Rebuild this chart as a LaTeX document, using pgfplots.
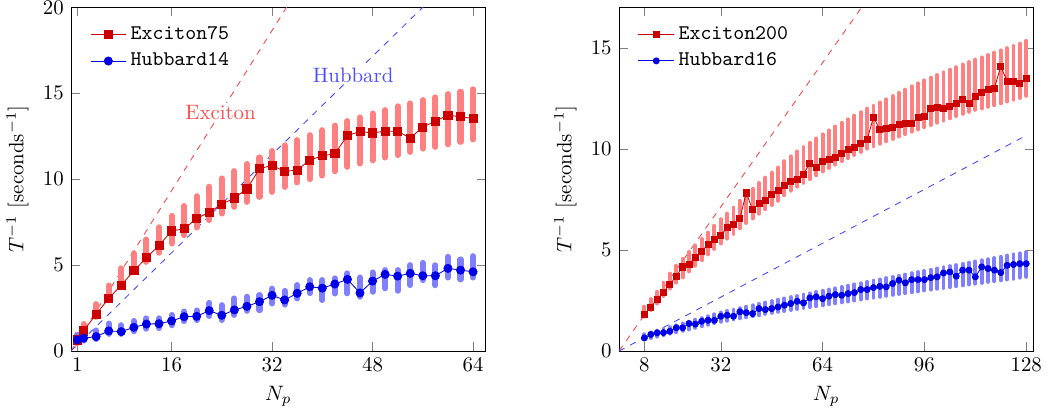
\documentclass[border=0pt]{standalone}
\usepackage{pgfplots}
\usepackage{pgfplotstable}
\pgfplotsset{compat=1.18}

% columns: x, marker value, bar centre, bar half-height
\pgfplotstableread{
x y c e
1 0.65 0.65 0.20
2 1.17 1.25 0.32
4 2.15 2.36 0.37
6 3.06 3.39 0.42
8 3.84 4.28 0.53
10 4.67 5.15 0.54
12 5.43 5.84 0.65
14 6.14 6.46 0.74
16 6.99 7.06 0.80
18 7.11 7.59 0.85
20 7.71 8.10 0.91
22 8.08 8.59 0.97
24 8.54 9.02 1.02
26 8.91 9.43 1.04
28 9.43 9.78 1.10
30 10.61 10.12 1.15
32 10.80 10.45 1.19
34 10.45 10.76 1.21
36 10.53 11.04 1.23
38 11.11 11.28 1.28
40 11.36 11.53 1.32
42 11.48 11.79 1.33
44 12.54 12.05 1.33
46 12.77 12.25 1.34
48 12.69 12.46 1.36
50 12.79 12.64 1.38
52 12.79 12.82 1.42
54 12.39 13.00 1.41
56 13.03 13.19 1.41
58 13.38 13.32 1.44
60 13.72 13.49 1.46
62 13.63 13.63 1.46
64 13.53 13.77 1.46
}\excA

\pgfplotstableread{
x y c e
1 0.65 0.75 0.20
2 0.75 0.83 0.22
4 0.84 0.95 0.25
6 1.17 1.30 0.30
8 1.13 1.25 0.25
10 1.38 1.45 0.30
12 1.57 1.60 0.30
14 1.59 1.62 0.28
16 1.75 1.80 0.30
18 2.00 2.02 0.28
20 2.02 2.08 0.28
22 2.35 2.42 0.38
24 2.08 2.24 0.43
26 2.39 2.58 0.48
28 2.60 2.75 0.41
30 2.87 2.82 0.44
32 3.24 3.20 0.43
34 2.97 3.10 0.40
36 3.36 3.45 0.39
38 3.74 3.75 0.38
40 3.66 3.55 0.58
42 3.90 3.79 0.44
44 4.17 3.94 0.58
46 3.38 3.72 0.56
48 4.07 4.01 0.56
50 4.46 4.18 0.53
52 4.36 4.11 0.60
54 4.52 4.42 0.58
56 4.38 4.63 0.50
58 4.38 4.41 0.58
60 4.81 4.88 0.60
62 4.71 4.75 0.58
64 4.61 4.90 0.62
}\hubA

\pgfplotstableread{
x y c e
8 1.80 1.95 0.25
10 2.18 2.30 0.27
12 2.56 2.64 0.29
14 2.92 3.05 0.33
16 3.30 3.46 0.37
18 3.70 3.80 0.42
20 4.16 4.10 0.46
22 4.27 4.42 0.48
24 4.65 4.72 0.50
26 4.95 5.02 0.52
28 5.26 5.32 0.54
30 5.51 5.62 0.57
32 5.72 5.92 0.60
34 6.10 6.18 0.62
36 6.27 6.44 0.65
38 6.55 6.75 0.68
40 7.82 7.03 0.70
42 6.99 7.29 0.73
44 7.32 7.55 0.76
46 7.45 7.80 0.78
48 7.73 8.02 0.80
50 7.95 8.25 0.82
52 8.20 8.55 0.84
54 8.39 8.78 0.85
56 8.48 9.00 0.87
58 8.74 9.20 0.88
60 9.30 9.40 0.90
62 9.07 9.60 0.91
64 9.38 9.80 0.92
66 9.46 9.98 0.93
68 9.56 10.16 0.94
70 9.79 10.34 0.95
72 9.96 10.50 0.96
74 10.06 10.67 0.97
76 10.29 10.83 0.98
78 10.45 11.00 0.99
80 11.57 11.13 1.00
82 10.95 11.27 1.02
84 11.00 11.41 1.04
86 11.08 11.55 1.06
88 11.21 11.69 1.08
90 11.28 11.83 1.10
92 11.28 11.97 1.12
94 11.54 12.10 1.14
96 11.62 12.23 1.16
98 11.98 12.35 1.17
100 12.07 12.47 1.18
102 11.98 12.59 1.19
104 12.10 12.71 1.20
106 12.26 12.83 1.21
108 12.45 12.95 1.22
110 12.26 13.06 1.23
112 12.59 13.17 1.24
114 12.81 13.26 1.26
116 12.92 13.36 1.28
118 13.00 13.46 1.30
120 14.08 13.56 1.31
122 13.34 13.66 1.32
124 13.34 13.76 1.33
126 13.25 13.86 1.34
128 13.47 13.98 1.36
}\excB

\pgfplotstableread{
x y c e
8 0.65 0.70 0.13
10 0.82 0.78 0.14
12 0.90 0.86 0.15
14 0.91 0.94 0.16
16 0.98 1.02 0.16
18 1.15 1.10 0.17
20 1.15 1.18 0.18
22 1.36 1.26 0.19
24 1.33 1.35 0.20
26 1.47 1.43 0.20
28 1.52 1.51 0.21
30 1.52 1.60 0.22
32 1.72 1.68 0.23
34 1.77 1.74 0.24
36 1.72 1.80 0.24
38 1.94 1.87 0.25
40 1.90 1.93 0.26
42 1.85 1.99 0.27
44 2.10 2.05 0.28
46 2.05 2.12 0.28
48 2.10 2.18 0.29
50 2.18 2.24 0.30
52 2.27 2.29 0.31
54 2.35 2.35 0.32
56 2.46 2.40 0.32
58 2.38 2.46 0.33
60 2.63 2.51 0.34
62 2.68 2.57 0.35
64 2.59 2.62 0.36
66 2.71 2.68 0.36
68 2.79 2.73 0.37
70 2.76 2.79 0.38
72 2.84 2.84 0.39
74 2.89 2.90 0.40
76 3.04 2.95 0.40
78 3.04 3.01 0.41
80 3.14 3.06 0.42
82 3.20 3.11 0.43
84 3.17 3.17 0.44
86 3.34 3.22 0.44
88 3.50 3.27 0.45
90 3.37 3.32 0.46
92 3.53 3.38 0.47
94 3.53 3.43 0.48
96 3.53 3.48 0.48
98 3.63 3.53 0.49
100 3.67 3.58 0.50
102 3.86 3.63 0.51
104 3.91 3.68 0.52
106 3.70 3.73 0.52
108 4.00 3.78 0.53
110 4.00 3.83 0.54
112 3.67 3.88 0.55
114 4.16 3.93 0.56
116 4.08 3.98 0.56
118 4.00 4.03 0.57
120 3.88 4.08 0.58
122 4.24 4.13 0.59
124 4.28 4.18 0.60
126 4.32 4.23 0.60
128 4.32 4.28 0.61
}\hubB

\colorlet{excmark}{red!80!black}
\colorlet{hubmark}{blue!90!black}

\pgfplotsset{
  panel/.style={
    scale only axis, width=199pt, height=165pt,
    xlabel={$N_p$}, ylabel={$T^{-1}$ [seconds$^{-1}$]},
    legend cell align=left,
    legend style={at={(0.03,0.97)}, anchor=north west, draw=none, fill=none,
                  font=\ttfamily, row sep=1pt},
  },
  bars/.style 2 args={forget plot, draw=none, mark=none,
    error bars/.cd, y dir=both, y explicit, error mark=none,
    error bar style={draw=#1, line width=#2, solid, line cap=round}},
}

\begin{document}
\begin{tikzpicture}
\begin{axis}[panel, xmin=0, xmax=66, ymin=0, ymax=20,
  xtick={1,16,32,48,64}, ytick={0,5,10,15,20}]
\addplot[forget plot, red!75, dashed] coordinates {(0,0) (64,37.3)};
\addplot[forget plot, blue!75, dashed] coordinates {(0,0) (64,22.86)};
\addplot[bars={red!50}{2.9pt}] table[x=x, y=c, y error=e] {\excA};
\addplot[bars={blue!50}{2.9pt}] table[x=x, y=c, y error=e] {\hubA};
\addplot[excmark, mark=square*, mark size=1.95pt, mark options={solid, fill=excmark}]
  table[x=x, y=y] {\excA};
\addplot[hubmark, mark=*, mark size=1.95pt, mark options={solid, fill=hubmark}]
  table[x=x, y=y] {\hubA};
\node[fill=white, inner sep=1pt, text=red!70] at (axis cs:23.8,13.9) {Exciton};
\node[fill=white, inner sep=1pt, text=blue!70] at (axis cs:44.9,16.06) {Hubbard};
\legend{Exciton75, Hubbard14}
\end{axis}

\begin{axis}[panel, at={(263pt,0pt)}, xmin=0, xmax=130.3, ymin=0, ymax=17,
  xtick={8,32,64,96,128}, ytick={0,5,10,15}]
\addplot[forget plot, red!75, dashed] coordinates {(0,0) (128,28.52)};
\addplot[forget plot, blue!75, dashed] coordinates {(0,0) (128,10.66)};
\addplot[bars={red!50}{1.9pt}] table[x=x, y=c, y error=e] {\excB};
\addplot[bars={blue!50}{1.9pt}] table[x=x, y=c, y error=e] {\hubB};
\addplot[excmark, mark=square*, mark size=1.45pt, mark options={solid, fill=excmark}]
  table[x=x, y=y] {\excB};
\addplot[hubmark, mark=*, mark size=1.45pt, mark options={solid, fill=hubmark}]
  table[x=x, y=y] {\hubB};
\legend{Exciton200, Hubbard16}
\end{axis}
\pgfresetboundingbox
\path (-34.1pt,-30.2pt) rectangle (474.7pt,168.5pt);
\end{tikzpicture}
\end{document}
